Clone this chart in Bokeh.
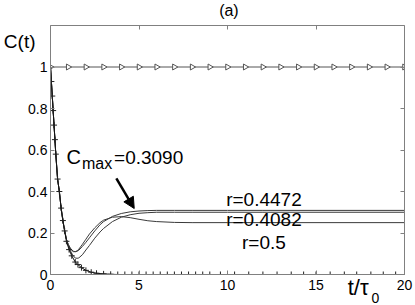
import numpy as np
from bokeh.plotting import figure
from bokeh.models import LinearAxis, FixedTicker, Label, Arrow, NormalHead, CustomJSTickFormatter
from bokeh.embed import file_html
from bokeh.resources import INLINE

# ---- data ----
x_ticks = [0, 5, 10, 15, 20]
y_ticks = [0, 0.2, 0.4, 0.6, 0.8, 1]
y_tick_labels = ["0", "0.2", "0.4", "0.6", "0.8", "1"]

t_tri = list(range(0, 21))
c_tri = [1.0] * 21

t_plus = [0, 0.05, 0.1, 0.15, 0.2, 0.25, 0.3, 0.4, 0.5, 0.6, 0.7, 0.8, 0.9, 1.05, 1.2, 1.4,
          1.55, 1.75, 2.0, 2.3, 2.6, 3.0, 3.4, 3.8, 4.2, 4.6, 5.0, 5.4, 5.8, 6.2, 6.6, 7.0,
          7.4, 7.8, 8.2, 8.6, 9.0, 9.6, 10.4, 11.2, 12.0, 12.8, 13.6, 14.3, 15.0, 15.8, 16.6,
          17.3, 18.1, 18.8, 19.5, 20.0]
c_plus = [1.0, 0.93, 0.86, 0.79, 0.72, 0.65, 0.58, 0.46, 0.40, 0.32, 0.26, 0.21, 0.16, 0.12,
          0.09, 0.06, 0.048, 0.033, 0.02, 0.011, 0.006, 0.003, 0.001, 0, 0, 0, 0, 0, 0, 0, 0, 0,
          0, 0, 0, 0, 0, 0, 0, 0, 0, 0, 0, 0, 0, 0, 0, 0, 0, 0, 0, 0]

t_r = [0, 0.05, 0.1, 0.15, 0.2, 0.25, 0.3, 0.35, 0.4, 0.5, 0.6, 0.7, 0.8, 0.9,
       1.0, 1.1, 1.2, 1.3, 1.4, 1.5, 1.6, 1.8, 2.0, 2.2, 2.5, 2.8, 3.0, 3.5, 4.0, 4.5,
       5.0, 5.5, 6.0, 7.0, 8.0, 10.0, 12.0, 15.0, 20.0]
c_start = [1.0, 0.93, 0.86, 0.79, 0.72, 0.65, 0.58, 0.52, 0.46, 0.40, 0.32, 0.26, 0.21, 0.17]
c_r4472 = c_start + [0.145, 0.13, 0.118, 0.112, 0.11, 0.112, 0.117, 0.135, 0.155, 0.177, 0.21,
                     0.24, 0.255, 0.28, 0.294, 0.302, 0.306, 0.308, 0.309, 0.309, 0.309, 0.309,
                     0.309, 0.309, 0.309]
c_r4082 = c_start + [0.14, 0.12, 0.10, 0.088, 0.08, 0.078, 0.08, 0.095, 0.118, 0.14, 0.175,
                     0.205, 0.222, 0.255, 0.276, 0.288, 0.295, 0.298, 0.30, 0.30, 0.30, 0.30,
                     0.30, 0.30, 0.30]
c_r5 = c_start + [0.145, 0.128, 0.116, 0.11, 0.11, 0.114, 0.122, 0.145, 0.17, 0.195, 0.225,
                  0.25, 0.262, 0.276, 0.279, 0.274, 0.266, 0.259, 0.255, 0.251, 0.25, 0.25,
                  0.25, 0.25, 0.25]

FONT = "Liberation Sans"
AXC = "#808080"
LC = "#3a3a3a"

p = figure(width=415, height=305, x_range=(0, 20), y_range=(0, 1.2),
           output_backend="svg", toolbar_location=None,
           min_border_left=49, min_border_right=11, min_border_top=25, min_border_bottom=31)
p.outline_line_color = None
p.grid.visible = False
p.background_fill_color = "white"


def style_axis(ax, ticks, show_labels=True):
    ax.ticker = FixedTicker(ticks=ticks)
    ax.axis_line_color = AXC
    ax.major_tick_line_color = AXC
    ax.major_tick_in = 4
    ax.major_tick_out = 0
    ax.minor_tick_line_color = None
    ax.major_label_text_font = FONT
    ax.major_label_text_color = "black"
    ax.major_label_text_font_size = "14px"
    if not show_labels:
        ax.formatter = CustomJSTickFormatter(code="return ''")
        ax.major_label_standoff = 0


def text_axis(tick, text, size, standoff):
    # an extra axis with no line and no tick marks, used only to carry one text
    ax = LinearAxis(ticker=FixedTicker(ticks=[tick]),
                    formatter=CustomJSTickFormatter(code="return '%s'" % text))
    ax.axis_line_color = None
    ax.major_tick_line_color = None
    ax.minor_tick_line_color = None
    ax.major_tick_in = 0
    ax.major_tick_out = 0
    ax.major_label_standoff = standoff
    ax.major_label_text_font = FONT
    ax.major_label_text_font_size = size
    ax.major_label_text_color = "black"
    return ax


style_axis(p.xaxis[0], x_ticks)
p.xaxis[0].major_label_standoff = 5
style_axis(p.yaxis[0], y_ticks)
p.yaxis[0].major_label_standoff = 3
p.yaxis[0].major_label_overrides = {float(k): v for k, v in zip(y_ticks, y_tick_labels)}

top = LinearAxis()
style_axis(top, x_ticks, False)
p.add_layout(top, "above")
right = LinearAxis()
style_axis(right, y_ticks, False)
p.add_layout(right, "right")

# axis name texts carried by extra axes
p.add_layout(text_axis(1.123, "C(t)", "19px", -10), "left")
p.add_layout(text_axis(17.38, "t/τ", "22px", -18), "below")

# curves
p.line(t_r, c_r4472, line_color=LC, line_width=1)
p.line(t_r, c_r4082, line_color=LC, line_width=1)
p.line(t_r, c_r5, line_color=LC, line_width=1)
p.line(t_plus, c_plus, line_color="#111111", line_width=1)
p.scatter(t_plus, c_plus, marker="cross", size=6, line_color="#222222", line_width=1)
p.line(t_tri, c_tri, line_color="#555555", line_width=1)
p.scatter(t_tri, c_tri, marker="triangle", angle=-np.pi / 2, size=6,
          line_color="#555555", fill_color="white", line_width=1)

# texts
def lab(x, y, text, size, align="left", baseline="alphabetic", place="center"):
    p.add_layout(Label(x=x, y=y, text=text, text_font=FONT, text_font_size=size,
                       text_align=align, text_baseline=baseline, text_color="black"), place)

lab(0.9, 0.565, "C", "20px")
lab(1.78, 0.535, "max", "16px")
lab(3.59, 0.565, "=0.3090", "19px")
lab(12.06, 0.361, "r=0.4472", "19px", "center")
lab(12.06, 0.265, "r=0.4082", "19px", "center")
lab(12.06, 0.154, "r=0.5", "19px", "center")

# texts outside the frame: in side panels so they are not clipped
lab(10.08, 1.27, "(a)", "16px", "center", "middle", "above")
lab(18.14, -0.111, "0", "14px", "left", "alphabetic", "right")

p.add_layout(Arrow(x_start=3.72, y_start=0.463, x_end=4.73, y_end=0.318,
                   line_width=2.5, line_color="black",
                   end=NormalHead(size=11, fill_color="black", line_color="black")))

open("out.html", "w").write(file_html(p, INLINE))
